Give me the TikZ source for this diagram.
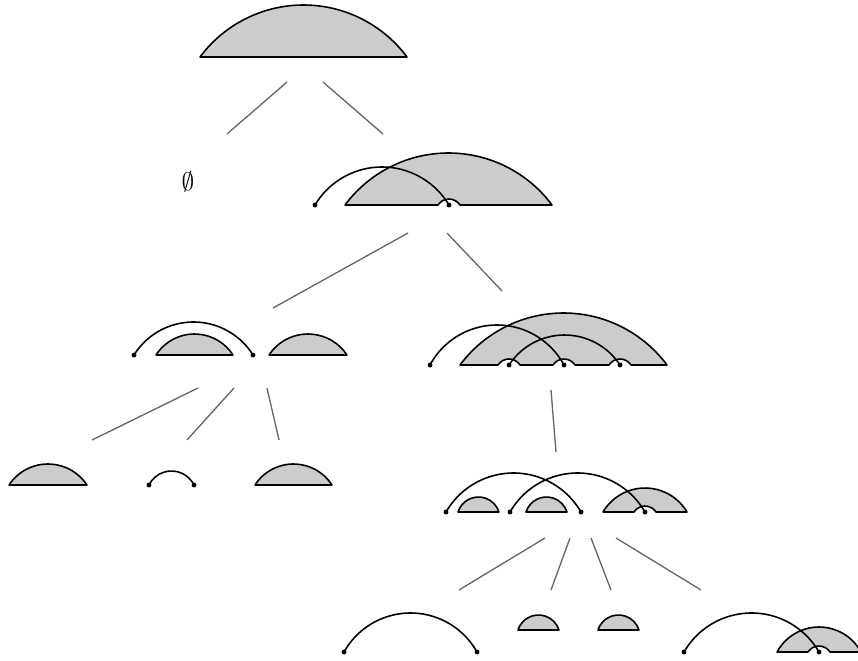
\documentclass[tikz,border=0pt]{standalone}
\usepackage{amsmath, amssymb}
\usepackage{tikz}

% circular cap over a chord of width #1 and height #2 (left to right)
\newcommand\hump[2]{arc[start angle={270-2*atan(2*#2/#1)}, end angle={270+2*atan(2*#2/#1)}, radius={#1/(2*sin(2*atan(2*#2/#1)))}]}
% the same cap, walked right to left (small cut under a pin)
\newcommand\dip[2]{arc[start angle={270+2*atan(2*#2/#1)}, end angle={270-2*atan(2*#2/#1)}, radius={#1/(2*sin(2*atan(2*#2/#1)))}]}

\tikzset{
  seg/.style={draw=black, fill=black!20, line width=0.9pt, line join=round},
  chord/.style={draw=black, line width=0.9pt},
  branch/.style={draw=black!60, line width=0.75pt},
  pin/.style={fill=black},
}

\begin{document}
\begin{tikzpicture}[x=0.02cm, y=-0.02cm]
  \useasboundingbox (0,0) rectangle (858,660);
  \clip (0,0) rectangle (858,660);

  % root
  \filldraw[seg] (200,57) \hump{207}{52} -- cycle;

  % left child: empty
  \node[font=\Large] (empty) at (188,182) {$\emptyset$};

  % right child a
  \filldraw[seg] (345,205) \hump{207}{52} -- (460,205) \dip{22}{6} -- cycle;
  \draw[chord] (315,205) \hump{134}{38};
  \foreach \x in {315,449} \fill[pin] (\x,205) circle[radius=1.4pt];

  % b
  \filldraw[seg] (156,355) \hump{77}{21} -- cycle;
  \filldraw[seg] (269,355) \hump{78}{21} -- cycle;
  \draw[chord] (134,355) \hump{119}{33};
  \foreach \x in {134,253} \fill[pin] (\x,355) circle[radius=1.4pt];

  % c
  \filldraw[seg] (460,365) \hump{207}{52} -- (631,365) \dip{22}{6}
    -- (575,365) \dip{22}{6} -- (520,365) \dip{22}{6} -- cycle;
  \draw[chord] (430,365) \hump{134}{40};
  \draw[chord] (509,365) \hump{111}{30};
  \foreach \x in {430,509,564,620} \fill[pin] (\x,365) circle[radius=1.4pt];

  % leaves under b
  \filldraw[seg] (9,485) \hump{78}{21} -- cycle;
  \draw[chord] (149,485) \hump{45}{14};
  \foreach \x in {149,194} \fill[pin] (\x,485) circle[radius=1.4pt];
  \filldraw[seg] (255,485) \hump{77}{21} -- cycle;

  % d
  \filldraw[seg] (458,512) \hump{41}{15} -- cycle;
  \filldraw[seg] (526,512) \hump{41}{15} -- cycle;
  \filldraw[seg] (603,512) \hump{84}{24} -- (656,512) \dip{22}{6} -- cycle;
  \draw[chord] (446,512) \hump{135}{39};
  \draw[chord] (510,512) \hump{135}{39};
  \foreach \x in {446,510,581,645} \fill[pin] (\x,512) circle[radius=1.4pt];

  % leaves under d
  \draw[chord] (344,652) \hump{133}{39};
  \filldraw[seg] (518,630) \hump{41}{15} -- cycle;
  \filldraw[seg] (598,630) \hump{41}{15} -- cycle;
  \filldraw[seg] (777,652) \hump{84}{25} -- (830,652) \dip{22}{6} -- cycle;
  \draw[chord] (684,652) \hump{135}{39};
  \foreach \x in {344,477,684,819} \fill[pin] (\x,652) circle[radius=1.4pt];

  % branch ends
  \coordinate (r-1) at (287,82);  \coordinate (empty-t) at (227,134);
  \coordinate (r-2) at (323,82);  \coordinate (a-t) at (383,134);
  \coordinate (a-1) at (408,233); \coordinate (b-t) at (273,308);
  \coordinate (a-2) at (447,233); \coordinate (c-t) at (502,291);
  \coordinate (b-1) at (198,388); \coordinate (b1-t) at (92,440);
  \coordinate (b-2) at (234,388); \coordinate (b2-t) at (187,440);
  \coordinate (b-3) at (267,388); \coordinate (b3-t) at (279,440);
  \coordinate (c-1) at (551,390); \coordinate (d-t) at (556,452);
  \coordinate (d-1) at (545,538); \coordinate (d1-t) at (459,590);
  \coordinate (d-2) at (570,538); \coordinate (d2-t) at (551,590);
  \coordinate (d-3) at (591,538); \coordinate (d3-t) at (611,590);
  \coordinate (d-4) at (616,538); \coordinate (d4-t) at (701,590);

  \foreach \u/\v in {r-1/empty-t, r-2/a-t, a-1/b-t, a-2/c-t, b-1/b1-t, b-2/b2-t,
      b-3/b3-t, c-1/d-t, d-1/d1-t, d-2/d2-t, d-3/d3-t, d-4/d4-t}
    \draw[branch] (\u) -- (\v);
\end{tikzpicture}
\end{document}
